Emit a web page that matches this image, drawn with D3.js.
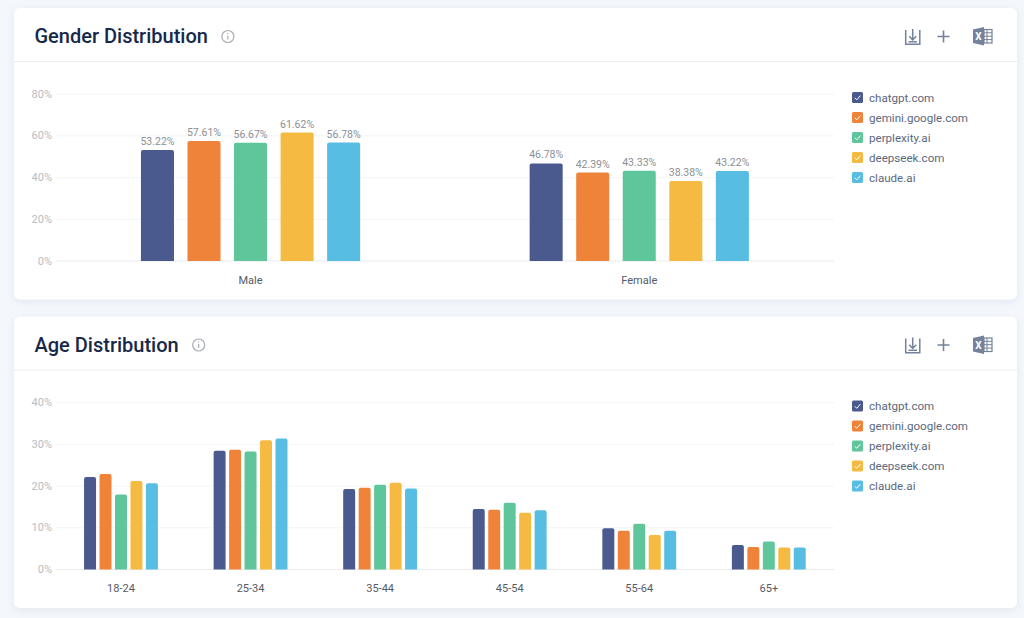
<!DOCTYPE html>
<html>
<head>
<meta charset="utf-8">
<script src="https://cdn.jsdelivr.net/npm/d3@7/dist/d3.min.js"></script>
<style>
  html, body { margin: 0; padding: 0; background: #f4f7fc; }
  svg { display: block; font-family: Roboto, sans-serif; }
</style>
</head>
<body>
<svg id="page" width="1024" height="618"></svg>
<script>
// Traffic share by audience segment for five AI sites
const sites = ["chatgpt.com", "gemini.google.com", "perplexity.ai", "deepseek.com", "claude.ai"];
const siteColors = ["#4a5a8f", "#f0833a", "#5fc59b", "#f5ba41", "#58bde3"];

const genderLabels = ["Male", "Female"];
const genderChatgpt = [53.22, 46.78];
const genderGemini = [57.61, 42.39];
const genderPerplexity = [56.67, 43.33];
const genderDeepseek = [61.62, 38.38];
const genderClaude = [56.78, 43.22];
const genderTicks = [0, 20, 40, 60, 80];

const ageLabels = ["18-24", "25-34", "35-44", "45-54", "55-64", "65+"];
const ageChatgpt = [22.2, 28.5, 19.3, 14.5, 9.9, 5.9];
const ageGemini = [22.9, 28.7, 19.6, 14.3, 9.3, 5.4];
const agePerplexity = [18.0, 28.3, 20.3, 16.0, 11.0, 6.7];
const ageDeepseek = [21.2, 31.0, 20.8, 13.6, 8.3, 5.3];
const ageClaude = [20.7, 31.4, 19.4, 14.2, 9.3, 5.3];
const ageTicks = [0, 10, 20, 30, 40];

const svg = d3.select("#page");

const defs = svg.append("defs");
const shadow = defs.append("filter").attr("id", "cardShadow")
  .attr("x", "-5%").attr("y", "-10%").attr("width", "110%").attr("height", "120%");
shadow.append("feDropShadow").attr("dx", 0).attr("dy", 2).attr("stdDeviation", 4)
  .attr("flood-color", "#8a9ab8").attr("flood-opacity", 0.16);

// Column with only its top corners rounded
function topRoundedBar(x, y, w, h, r) {
  return `M${x},${y + h}V${y + r}Q${x},${y} ${x + r},${y}H${x + w - r}Q${x + w},${y} ${x + w},${y + r}V${y + h}Z`;
}

function drawToolbar(g) {
  const ink = "#74829a";
  // Download tray with arrow
  const dl = g.append("g").attr("transform", "translate(905,29)")
    .attr("fill", "none").attr("stroke", ink).attr("stroke-width", 1.5);
  dl.append("path").attr("d", "M0.7,1V15.2H14.8V1");
  dl.append("path").attr("d", "M7.7,0V10.5M4.2,7.2L7.7,10.8L11.2,7.2");
  dl.append("path").attr("d", "M3.5,12.8H12");
  // Add button
  g.append("path").attr("transform", "translate(937.5,30.5)")
    .attr("d", "M6,0V12M0,6H12").attr("fill", "none").attr("stroke", ink).attr("stroke-width", 1.6);
  // Spreadsheet badge
  const xl = g.append("g").attr("transform", "translate(973,27)");
  xl.append("path").attr("d", "M0,2.5L11,0V18.5L0,16Z").attr("fill", ink);
  xl.append("rect").attr("x", 11).attr("y", 2.5).attr("width", 8).attr("height", 13.5)
    .attr("fill", "none").attr("stroke", ink).attr("stroke-width", 1.2);
  xl.append("path").attr("d", "M14,2.5V16M11,5.8H19M11,9.2H19M11,12.6H19")
    .attr("fill", "none").attr("stroke", ink).attr("stroke-width", 1);
  xl.append("text").attr("x", 5.4).attr("y", 13.2).attr("text-anchor", "middle")
    .attr("font-size", 10).attr("font-weight", 700).attr("fill", "#fff").text("X");
}

function drawLegend(g) {
  const items = g.append("g").attr("transform", "translate(852,0)")
    .selectAll("g").data(sites).join("g")
    .attr("transform", (d, i) => `translate(0,${92 + i * 20})`);
  items.append("rect").attr("width", 11).attr("height", 11).attr("rx", 1.5)
    .attr("fill", (d, i) => siteColors[i]);
  items.append("path").attr("d", "M2.8,5.8L4.8,7.8L8.4,3.6")
    .attr("fill", "none").attr("stroke", "#fff").attr("stroke-width", 1);
  items.append("text").attr("x", 17).attr("y", 9.6)
    .attr("font-size", 11.6).attr("fill", "#5b6980").text(d => d);
}

function drawCard(cfg) {
  const g = svg.append("g").attr("transform", `translate(0,${cfg.offset})`);

  g.append("rect").attr("x", 14).attr("y", 8).attr("width", 1003).attr("height", 291.5)
    .attr("rx", 6).attr("fill", "#fff").attr("filter", "url(#cardShadow)");
  g.append("line").attr("x1", 14).attr("x2", 1017).attr("y1", 61.5).attr("y2", 61.5)
    .attr("stroke", "#e9ecf1");

  const title = g.append("text").attr("x", 34.5).attr("y", 43)
    .attr("font-size", 20).attr("font-weight", 500)
    .attr("fill", "#16294a").text(cfg.title);
  const tx = 34.5 + title.node().getComputedTextLength() + 20;

  // Info glyph beside the title
  const info = g.append("g").attr("transform", `translate(${tx},36.5)`);
  info.append("circle").attr("r", 6).attr("fill", "none").attr("stroke", "#a9adb5").attr("stroke-width", 1.2);
  info.append("path").attr("d", "M0,-1V3M0,-3.4V-2.4").attr("stroke", "#a9adb5").attr("stroke-width", 1.2);

  drawToolbar(g);
  drawLegend(g);

  const y = d3.scaleLinear().domain(cfg.domain).range([261, 94.2]);
  const x0 = d3.scaleBand().domain(cfg.categories).range([56.2, 833.6])
    .paddingInner(cfg.groupPad).paddingOuter(cfg.groupPad / 2);
  const x1 = d3.scaleBand().domain(sites).range([0, x0.bandwidth()]).paddingInner(cfg.barPad);

  // Gridlines and percent labels
  const yAxis = g.append("g").attr("transform", "translate(56,0)")
    .call(d3.axisLeft(y).tickValues(cfg.ticks).tickFormat(d => d + "%")
      .tickSize(-778).tickPadding(4).offset(0));
  yAxis.select(".domain").remove();
  yAxis.selectAll(".tick line").attr("stroke", d => d === 0 ? "#e9ebef" : "#f3f4f7");
  yAxis.selectAll(".tick text").attr("font-family", "Roboto, sans-serif")
    .attr("font-size", 11).attr("fill", "#b9bcc2");

  // Category labels
  const xAxis = g.append("g").attr("transform", "translate(0,261)")
    .call(d3.axisBottom(x0).tickSize(0).tickPadding(15));
  xAxis.select(".domain").remove();
  xAxis.selectAll(".tick text").attr("font-family", "Roboto, sans-serif")
    .attr("font-size", 11).attr("fill", "#555b66");

  // Grouped columns
  const groups = g.append("g").selectAll("g").data(cfg.categories).join("g")
    .attr("transform", d => `translate(${x0(d)},0)`);
  groups.selectAll("path")
    .data((d, ci) => sites.map((s, si) => ({ s, si, v: cfg.series[si][ci] })))
    .join("path")
    .attr("fill", d => siteColors[d.si])
    .attr("d", d => topRoundedBar(x1(d.s), y(d.v), x1.bandwidth(), y(0) - y(d.v), 2));

  if (cfg.showValues) {
    groups.selectAll("text")
      .data((d, ci) => sites.map((s, si) => ({ s, v: cfg.series[si][ci] })))
      .join("text")
      .attr("x", d => x1(d.s) + x1.bandwidth() / 2)
      .attr("y", d => y(d.v) - 5)
      .attr("text-anchor", "middle").attr("font-size", 10.5).attr("fill", "#8b8f96")
      .text(d => d.v.toFixed(2) + "%");
  }
}

drawCard({
  offset: 0,
  title: "Gender Distribution",
  categories: genderLabels,
  series: [genderChatgpt, genderGemini, genderPerplexity, genderDeepseek, genderClaude],
  domain: [0, 80],
  ticks: genderTicks,
  groupPad: 0.436,
  barPad: 0.29,
  showValues: true
});

drawCard({
  offset: 308.5,
  title: "Age Distribution",
  categories: ageLabels,
  series: [ageChatgpt, ageGemini, agePerplexity, ageDeepseek, ageClaude],
  domain: [0, 40],
  ticks: ageTicks,
  groupPad: 0.43,
  barPad: 0.226,
  showValues: false
});
</script>
</body>
</html>
